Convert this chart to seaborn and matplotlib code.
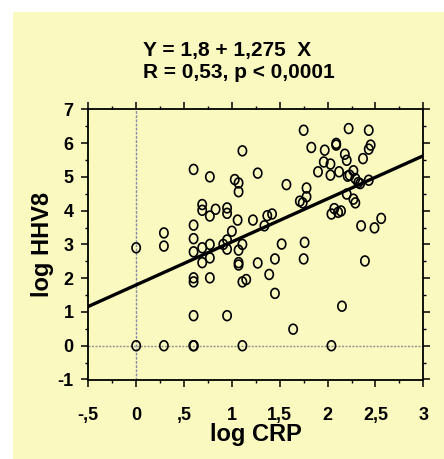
import numpy as np
import pandas as pd
import matplotlib
matplotlib.use("Agg")
import matplotlib.pyplot as plt
from matplotlib.patches import Rectangle
from matplotlib.path import Path
from matplotlib.ticker import MultipleLocator, FixedLocator
import seaborn as sns

# ---- data ----
log_crp = [1.11, 0.60, 0.77, 1.03, 1.07, 1.07, 1.27, 0.69, 0.69, 0.83,
           0.95, 0.95, 0.77, 1.06, 1.22, 0.60, 1.00, 0.29, 0.60,
           0.00, 0.29, 0.60, 0.69, 0.77, 0.77, 0.69, 0.91, 0.95, 0.95,
           1.07, 1.11, 1.07, 1.07, 1.27, 0.60, 0.60, 0.77, 1.11, 1.15,
           0.60, 0.95, 0.00, 0.29, 0.597, 0.603, 1.11,
           1.75, 2.22, 2.43, 2.09, 2.09, 1.83, 1.97, 2.45, 2.43, 2.18,
           2.20, 2.37, 1.96, 2.03, 1.90, 2.03, 2.12, 2.27, 2.21, 2.23,
           2.29, 2.32, 2.34, 2.43, 1.57, 1.78, 1.78, 1.71, 1.74, 2.20,
           2.27, 2.29, 1.34, 1.37, 1.42, 2.04, 2.07, 2.11, 2.14, 2.56,
           2.35, 2.49, 1.52, 1.76,
           1.45, 1.39, 1.45, 1.75, 2.39, 2.15, 1.64, 2.04]
log_hhv8 = [5.77, 5.22, 5.00, 4.92, 4.82, 4.56, 5.11, 4.18, 4.01, 4.04,
            4.08, 3.92, 3.84, 3.72, 3.72, 3.57, 3.39, 3.34, 3.17,
            2.90, 2.95, 2.78, 2.90, 3.00, 2.60, 2.46, 3.00, 3.13, 2.86,
            2.83, 3.00, 2.46, 2.39, 2.45, 2.01, 1.89, 2.01, 1.89, 1.96,
            0.89, 0.89, 0.00, 0.00, 0.00, 0.00, 0.00,
            6.38, 6.43, 6.38, 5.99, 5.94, 5.87, 5.79, 5.94, 5.82, 5.67,
            5.49, 5.54, 5.44, 5.38, 5.15, 5.05, 5.15, 5.18, 5.02, 5.05,
            4.95, 4.83, 4.80, 4.90, 4.77, 4.67, 4.41, 4.28, 4.23, 4.49,
            4.34, 4.23, 3.55, 3.85, 3.90, 3.90, 4.06, 3.95, 3.99, 3.77,
            3.55, 3.49, 3.01, 3.06,
            2.57, 2.11, 1.55, 2.57, 2.51, 1.17, 0.49, 0.00]

intercept = 1.8
slope = 1.275
x_range = [-0.5, 3.0]

x_ticks = [-0.5, 0, 0.5, 1, 1.5, 2, 2.5, 3]
x_tick_labels = ["-,5", "0", ",5", "1", "1,5", "2", "2,5", "3"]
y_ticks = [-1, 0, 1, 2, 3, 4, 5, 6, 7]
y_tick_labels = ["-1", "0", "1", "2", "3", "4", "5", "6", "7"]

title_line1 = "Y = 1,8 + 1,275  X"
title_line2 = "R = 0,53, p < 0,0001"
x_label = "log CRP"
y_label = "log HHV8"

# ---- style ----
sns.set_theme(style="white")
plt.rcParams['font.family'] = ['Liberation Sans', 'DejaVu Sans']
plt.rcParams['font.weight'] = 'bold'
plt.rcParams['text.color'] = 'black'
plt.rcParams['axes.labelcolor'] = 'black'
plt.rcParams['xtick.color'] = 'black'
plt.rcParams['ytick.color'] = 'black'

YELLOW = "#FAFAC0"
W, H = 444, 459

fig = plt.figure(figsize=(W / 100, H / 100), dpi=100)
fig.patch.set_facecolor("white")
fig.patches.append(Rectangle((13 / W, 0), 1 - 13 / W, 1 - 12 / H,
                             transform=fig.transFigure, facecolor=YELLOW,
                             edgecolor="none", zorder=-5))

left, right, top, bottom = 88.3, 423.3, 109.3, 379.5
ax = fig.add_axes([left / W, 1 - bottom / H, (right - left) / W, (bottom - top) / H])
ax.set_facecolor(YELLOW)

df = pd.DataFrame({"x": log_crp, "y": log_hhv8})

# reference lines
ax.axvline(0, color="#8a8aa8", lw=1.0, ls=(0, (2, 1)), zorder=1)
ax.axhline(0, color="#909090", lw=1.0, ls=(0, (1.5, 1)), zorder=1)

# regression line
line_df = pd.DataFrame({"x": x_range,
                        "y": [intercept + slope * v for v in x_range]})
sns.lineplot(data=line_df, x="x", y="y", ax=ax, color="black", lw=2.4, zorder=3)

# elliptical open marker (slightly taller than wide)
t = np.linspace(0, 2 * np.pi, 60)
ell = Path(np.column_stack([0.84 * np.cos(t), np.sin(t)]), closed=True)

sns.scatterplot(data=df, x="x", y="y", ax=ax, marker=ell, s=50,
                facecolor="none", edgecolor="black", linewidth=1.2, zorder=4)

ax.set_xlim(-0.5, 3.0)
ax.set_ylim(-1, 7)

ax.xaxis.set_major_locator(FixedLocator(x_ticks))
ax.set_xticklabels(x_tick_labels)
ax.yaxis.set_major_locator(FixedLocator(y_ticks))
ax.set_yticklabels(y_tick_labels)
ax.xaxis.set_minor_locator(MultipleLocator(0.25))
ax.yaxis.set_minor_locator(MultipleLocator(0.5))

for s in ax.spines.values():
    s.set_visible(True)
    s.set_color("black")
    s.set_linewidth(1.3)

ax.tick_params(axis="both", which="both", direction="out", color="black",
               top=True, right=True, bottom=True, left=True)
ax.tick_params(which="major", length=5, width=1.1)
ax.tick_params(which="minor", length=2.5, width=1.0)
ax.tick_params(axis="x", which="major", pad=15, labelsize=13, labelcolor="black")
ax.tick_params(axis="y", which="major", pad=5.5, labelsize=13, labelcolor="black")
for lab in ax.get_xticklabels() + ax.get_yticklabels():
    lab.set_fontweight("bold")

ax.set_xlabel(x_label, fontsize=17, fontweight="bold", color="black")
ax.set_ylabel(y_label, fontsize=17, fontweight="bold", color="black")
ax.xaxis.set_label_coords(0.5, -0.161)
ax.yaxis.set_label_coords(-0.102, 0.5)

fig.text(143 / W, 1 - 41 / H, title_line1, ha="left", va="top",
         fontsize=15, fontweight="bold", color="black")
fig.text(143 / W, 1 - 63.3 / H, title_line2, ha="left", va="top",
         fontsize=15, fontweight="bold", color="black")

fig.savefig("out.png", dpi=100, facecolor=fig.get_facecolor())
